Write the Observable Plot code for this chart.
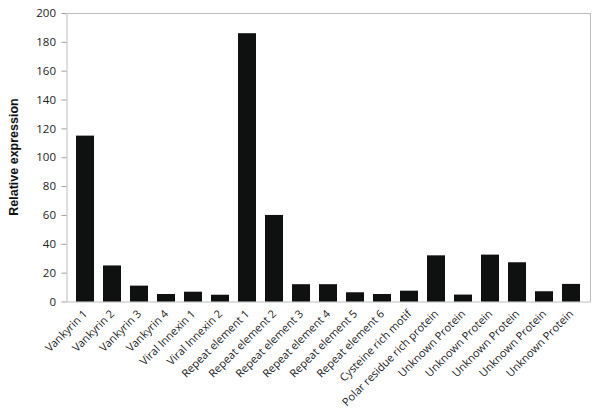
<!DOCTYPE html>
<html>
<head>
<meta charset="utf-8">
<script src="https://cdn.jsdelivr.net/npm/d3@7"></script>
<script src="https://cdn.jsdelivr.net/npm/@observablehq/plot@0.6"></script>
<style>
  html, body { margin: 0; padding: 0; background: #fff; }
  #chart svg { display: block; }
</style>
</head>
<body>
<div id="chart"></div>
<script>
const categories = [
  "Vankyrin 1", "Vankyrin 2", "Vankyrin 3", "Vankyrin 4",
  "Viral Innexin 1", "Viral Innexin 2",
  "Repeat element 1", "Repeat element 2", "Repeat element 3",
  "Repeat element 4", "Repeat element 5", "Repeat element 6",
  "Cysteine rich motif", "Polar residue rich protein",
  "Unknown Protein", "Unknown Protein", "Unknown Protein",
  "Unknown Protein", "Unknown Protein"
];
const values = [115, 25, 11, 5.2, 6.8, 4.7, 186, 60, 12, 12, 6.4, 5.2, 7.5, 32, 4.8, 32.5, 27.2, 7.1, 12.2];
const yTicks = [0, 20, 40, 60, 80, 100, 120, 140, 160, 180, 200];
const yLabel = "Relative expression";

const data = categories.map((c, i) => ({i, label: c, value: values[i]}));

const chart = Plot.plot({
  width: 600,
  height: 411,
  marginLeft: 66.5,
  marginRight: 10,
  marginTop: 13,
  marginBottom: 109.5,
  style: {fontFamily: "'Open Sans', sans-serif", fontSize: "11px", color: "#222", background: "#fff"},
  x: {domain: data.map(d => d.i), padding: 0.335, paddingOuter: 0.1675},
  y: {domain: [0, 200]},
  marks: [
    Plot.frame({stroke: "#bdbdbd", strokeWidth: 1}),
    Plot.barY(data, {x: "i", y: "value", fill: "#0f1110"}),
    Plot.axisY({ticks: yTicks, tickSize: 5, tickPadding: 6, stroke: "#a0a0a0", label: null, fontSize: 11.5}),
    Plot.axisX({tickFormat: i => categories[i], tickRotate: -45, tickSize: 0, tickPadding: 10, label: null, fontSize: 11})
  ]
});

// y-axis title as real text
const svg = d3.select(chart);
svg.append("text")
  .attr("transform", "translate(18,157) rotate(-90)")
  .attr("text-anchor", "middle")
  .attr("font-family", "'Liberation Sans', Arial, sans-serif")
  .attr("font-weight", "bold")
  .attr("font-size", "12.5px")
  .attr("fill", "#111")
  .text(yLabel);

document.getElementById("chart").appendChild(chart);
</script>
</body>
</html>
